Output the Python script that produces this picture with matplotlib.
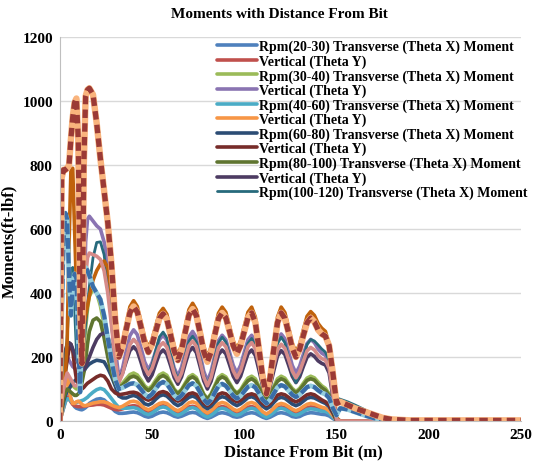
import matplotlib
matplotlib.use("Agg")
import matplotlib.pyplot as plt

plt.rcParams['font.family'] = ['Liberation Serif', 'DejaVu Serif']
plt.rcParams['font.weight'] = 'bold'

# distance from bit (m)
dist = [0, 1, 2, 3, 4, 5, 6, 7, 8, 9, 10, 11, 12, 13, 14, 15, 16,
        18, 20, 22, 24, 26, 28, 30,
        32, 34, 36, 38, 40, 42, 44, 46, 48, 50, 52, 54, 56, 58, 60, 62, 64,
        66, 68, 70, 72, 74, 76, 78, 80, 82, 84, 86, 88, 90, 92, 94, 96,
        98, 100, 102, 104, 106, 108, 110, 112, 114, 116, 118, 120, 122, 124, 126, 128,
        130, 132, 134, 136, 138, 140, 142, 144, 146, 148, 150,
        152, 156, 160, 165, 170, 175, 180, 190, 200, 225, 250]

Z11 = [0] * 11

rpm20_tx = ([0, 30, 60, 85, 92, 85, 70, 55, 45, 40, 38, 36, 35, 38, 42, 48, 55,
             62, 68, 70, 66, 55, 42, 30,
             24, 24, 25, 27, 28, 26, 21, 15, 12, 15, 21, 26, 28, 26, 21, 15, 12,
             15, 20, 25, 27, 25, 18, 12, 8, 12, 18, 24, 26, 24, 20, 14, 12,
             14, 20, 24, 26, 24, 18, 12, 8, 12, 18, 24, 26, 24, 20, 14, 12,
             14, 20, 24, 26, 25, 23, 21, 20, 16, 8, 1] + Z11)
rpm20_vy = ([0, 20, 40, 60, 75, 70, 60, 52, 48, 46, 45, 45, 45, 46, 47, 48, 49,
             50, 52, 52, 50, 45, 40, 36,
             35, 38, 42, 46, 48, 46, 39, 32, 28, 32, 39, 46, 48, 45, 38, 30, 26,
             30, 37, 44, 46, 43, 34, 25, 20, 25, 34, 42, 45, 43, 36, 30, 26,
             30, 36, 43, 45, 42, 33, 23, 18, 23, 32, 41, 44, 42, 36, 30, 26,
             30, 36, 42, 44, 43, 39, 36, 34, 28, 14, 1] + Z11)
rpm30_tx = ([0, 50, 90, 120, 140, 130, 120, 110, 105, 100, 100, 110, 150, 220, 290, 350, 390,
             412, 400, 360, 300, 230, 170, 130,
             110, 118, 132, 145, 150, 144, 128, 110, 100, 110, 128, 144, 150, 143, 122, 100, 88,
             99, 119, 138, 145, 136, 111, 85, 70, 85, 111, 136, 145, 138, 119, 99, 88,
             98, 117, 134, 140, 132, 108, 84, 70, 84, 108, 132, 140, 134, 118, 102, 92,
             102, 118, 134, 140, 135, 122, 110, 102, 85, 40, 3] + Z11)
rpm30_vy = ([0, 100, 150, 180, 200, 190, 180, 170, 165, 160, 160, 165, 200, 350, 560, 630, 640,
             625, 610, 600, 560, 500, 380, 230,
             135, 165, 218, 267, 285, 270, 229, 185, 160, 182, 219, 255, 268, 253, 210, 166, 140,
             168, 217, 263, 280, 261, 210, 156, 125, 154, 204, 251, 268, 254, 215, 174, 150,
             174, 215, 254, 268, 248, 195, 138, 105, 138, 197, 252, 272, 257, 217, 174, 150,
             171, 208, 242, 255, 245, 225, 212, 205, 180, 90, 5] + Z11)
rpm40_tx = ([0, 20, 40, 60, 70, 68, 62, 58, 56, 58, 60, 62, 64, 66, 70, 74, 80,
             90, 98, 102, 98, 85, 70, 55,
             42, 40, 40, 41, 42, 39, 32, 24, 20, 25, 33, 41, 44, 41, 32, 23, 18,
             23, 31, 39, 42, 38, 28, 18, 12, 18, 27, 37, 40, 37, 30, 22, 18,
             22, 30, 37, 40, 37, 27, 18, 12, 18, 27, 37, 40, 37, 30, 22, 18,
             22, 29, 36, 38, 37, 34, 31, 30, 24, 12, 1] + Z11)
rpm40_vy = ([15, 20, 60, 135, 140, 100, 70, 55, 55, 60, 62, 58, 52, 48, 48, 50, 52,
             56, 58, 60, 60, 56, 50, 45,
             42, 46, 53, 60, 62, 59, 50, 40, 35, 40, 48, 55, 58, 55, 46, 37, 32,
             38, 47, 57, 60, 56, 44, 32, 25, 32, 43, 54, 58, 55, 46, 37, 32,
             37, 46, 55, 58, 54, 42, 29, 22, 29, 40, 51, 55, 52, 45, 37, 32,
             37, 45, 52, 55, 53, 48, 43, 40, 32, 18, 2] + Z11)
rpm60_tx = ([0, 30, 60, 80, 95, 100, 110, 120, 125, 130, 135, 140, 145, 155, 165, 172, 178,
             185, 190, 188, 185, 165, 140, 110,
             78, 72, 72, 77, 80, 76, 66, 54, 50, 56, 68, 78, 82, 78, 67, 55, 48,
             54, 65, 74, 78, 73, 60, 46, 38, 46, 59, 71, 76, 73, 63, 54, 48,
             54, 63, 73, 76, 71, 59, 46, 38, 45, 58, 70, 74, 71, 62, 53, 48,
             53, 62, 71, 74, 72, 66, 60, 55, 45, 25, 2] + Z11)
rpm60_vy = ([0, 60, 110, 150, 190, 225, 240, 220, 170, 130, 115, 105, 100, 105, 112, 118, 122,
             130, 138, 143, 140, 125, 100, 88,
             82, 84, 86, 89, 90, 87, 79, 70, 65, 70, 80, 89, 92, 88, 78, 68, 62,
             67, 76, 85, 88, 83, 70, 56, 48, 56, 70, 83, 88, 85, 75, 66, 60,
             65, 74, 82, 85, 81, 68, 55, 48, 55, 68, 81, 85, 82, 74, 65, 60,
             65, 74, 82, 85, 82, 74, 66, 60, 50, 28, 2] + Z11)
rpm80_tx = ([0, 40, 70, 90, 100, 95, 90, 85, 80, 80, 85, 95, 120, 150, 190, 240, 280,
             315, 322, 310, 260, 200, 150, 120,
             105, 112, 124, 136, 140, 135, 120, 104, 95, 104, 121, 136, 142, 135, 116, 96, 85,
             96, 114, 132, 138, 130, 106, 82, 68, 82, 106, 130, 138, 132, 114, 96, 85,
             94, 111, 126, 132, 124, 103, 81, 68, 81, 103, 124, 132, 127, 112, 97, 88,
             97, 112, 127, 132, 128, 115, 104, 96, 80, 38, 3] + Z11)
rpm80_vy = ([0, 100, 180, 220, 240, 245, 240, 225, 210, 195, 180, 170, 160, 160, 170, 185, 200,
             230, 255, 270, 275, 265, 225, 170,
             130, 150, 186, 220, 232, 219, 184, 146, 125, 144, 178, 210, 222, 209, 174, 136, 115,
             138, 178, 216, 230, 214, 171, 126, 100, 124, 167, 207, 222, 210, 176, 140, 120,
             140, 176, 210, 222, 205, 158, 108, 80, 108, 157, 203, 220, 208, 175, 140, 120,
             138, 170, 199, 210, 202, 188, 180, 175, 150, 75, 4] + Z11)
rpm100_tx = [0, 80, 150, 200, 260, 380, 470, 480, 350, 220, 180, 170, 190, 240, 300, 360, 420,
             510, 558, 560, 520, 430, 300, 190,
             125, 151, 197, 239, 255, 242, 208, 171, 150, 176, 220, 263, 278, 260, 211, 160, 130,
             157, 204, 249, 265, 247, 198, 145, 115, 144, 196, 244, 262, 247, 205, 160, 135,
             160, 203, 243, 258, 238, 185, 128, 95, 128, 187, 242, 262, 245, 198, 148, 120,
             147, 194, 239, 255, 250, 238, 225, 215, 190, 130, 72,
             68, 60, 50, 36, 22, 10, 4, 1, 0, 0, 0]
rpm100_vy = ([0, 50, 100, 150, 250, 550, 780, 790, 600, 420, 300, 250, 270, 300, 330, 360, 390,
              440, 470, 490, 500, 480, 400, 300,
              215, 247, 304, 357, 376, 358, 310, 259, 230, 254, 297, 337, 352, 334, 286, 234, 205,
              238, 295, 348, 368, 348, 292, 234, 200, 231, 286, 337, 356, 340, 297, 251, 225,
              251, 297, 340, 356, 325, 241, 151, 100, 151, 241, 325, 356, 339, 293, 243, 215,
              240, 285, 327, 342, 330, 305, 290, 280, 240, 120, 10] + Z11)
rpm100_vy2 = ([0, 60, 100, 130, 150, 140, 130, 120, 110, 110, 115, 130, 200, 330, 450, 510, 525,
               520, 515, 505, 470, 400, 300, 190,
               120, 147, 194, 239, 255, 242, 206, 167, 145, 165, 200, 233, 245, 231, 191, 149, 125,
               150, 194, 235, 250, 233, 187, 138, 110, 137, 184, 229, 245, 232, 196, 157, 135,
               157, 196, 232, 245, 226, 175, 121, 90, 120, 173, 222, 240, 227, 193, 156, 135,
               154, 187, 219, 230, 222, 205, 195, 190, 165, 85, 5] + Z11)
rpm120_tx = [0, 320, 560, 650, 630, 450, 330, 420, 460, 445, 250, 90, 280, 460, 480, 470, 455,
             420, 400, 380, 330, 260, 190, 130,
             100, 104, 110, 116, 118, 113, 99, 84, 75, 84, 101, 116, 122, 116, 99, 80, 70,
             80, 96, 112, 118, 110, 90, 68, 55, 67, 89, 109, 116, 110, 95, 79, 70,
             78, 93, 107, 112, 105, 86, 66, 55, 66, 86, 105, 112, 108, 95, 82, 75,
             82, 94, 106, 110, 106, 96, 88, 84, 72, 40, 18,
             40, 36, 28, 18, 9, 4, 1, 0, 0, 0, 0]
rpm120_vy = [0, 760, 785, 785, 790, 800, 880, 950, 995, 1008, 880, 350, 180, 800, 1015, 1035, 1040,
             1020, 930, 820, 720, 620, 490, 320,
             200, 232, 287, 339, 358, 341, 294, 244, 215, 239, 281, 321, 335, 318, 270, 219, 190,
             222, 278, 331, 350, 330, 276, 218, 185, 216, 269, 320, 338, 323, 280, 236, 210,
             236, 280, 323, 338, 308, 224, 136, 85, 136, 224, 308, 338, 321, 276, 228, 200,
             224, 267, 307, 322, 310, 285, 272, 265, 235, 150, 55,
             60, 50, 40, 30, 20, 10, 5, 2, 2, 2, 2]

legend_labels = [
    'Rpm(20-30) Transverse (Theta X) Moment', 'Vertical (Theta Y)',
    'Rpm(30-40) Transverse (Theta X) Moment', 'Vertical (Theta Y)',
    'Rpm(40-60) Transverse (Theta X) Moment', 'Vertical (Theta Y)',
    'Rpm(60-80) Transverse (Theta X) Moment', 'Vertical (Theta Y)',
    'Rpm(80-100) Transverse (Theta X) Moment', 'Vertical (Theta Y)',
    'Rpm(100-120) Transverse (Theta X) Moment',
]

fig = plt.figure(figsize=(5.59, 4.64), dpi=100)
ax = fig.add_axes([0.107, 0.0905, 0.825, 0.8275])

series = [
    (rpm20_tx, '#4F81BD', 2.6),
    (rpm20_vy, '#C0504D', 2.6),
    (rpm30_tx, '#9BBB59', 2.6),
    (rpm30_vy, '#8A74B2', 2.6),
    (rpm40_tx, '#4BACC6', 2.6),
    (rpm40_vy, '#F79646', 2.6),
    (rpm60_tx, '#2C4D75', 2.6),
    (rpm60_vy, '#772C2A', 2.6),
    (rpm80_tx, '#5F7530', 2.6),
    (rpm80_vy, '#4D3B62', 2.6),
    (rpm100_tx, '#276A7C', 2.0),
]
handles = []
for vals, col, lw in series:
    h, = ax.plot(dist, vals, color=col, lw=lw, solid_capstyle='round')
    handles.append(h)

# the series not shown in the legend
ax.plot(dist, rpm100_vy, color='#C0620C', lw=2.6)
ax.plot(dist, rpm100_vy2, color='#D68B89', lw=2.6)
ax.plot(dist, rpm120_tx, color='#93CDDD', lw=3.4)
ax.plot(dist, rpm120_tx, color='#3A6DA8', lw=3.0, dashes=(2.6, 0.9))
ax.plot(dist, rpm120_vy, color='#F9B47D', lw=4.6)
ax.plot(dist, rpm120_vy, color='#9B3A36', lw=3.8, dashes=(1.6, 1.0))

ax.set_xlim(0, 250)
ax.set_ylim(0, 1200)
ax.set_xticks([0, 50, 100, 150, 200, 250])
ax.set_yticks(range(0, 1201, 200))
ax.yaxis.grid(True, color='#D9D9D9', lw=1)
ax.set_axisbelow(True)
for s in ['top', 'right']:
    ax.spines[s].set_visible(False)
for s in ['left', 'bottom']:
    ax.spines[s].set_color('#BFBFBF')
ax.tick_params(length=0, labelsize=11, pad=5)

fig.text(0.5, 1 - 15 / 464, 'Moments with Distance From Bit', fontsize=11,
         fontweight='bold', ha='center', va='center')
ax.set_xlabel('Distance From Bit (m)', fontsize=12, fontweight='bold', labelpad=-1)
ax.xaxis.set_label_coords(0.529, -0.058)
ax.set_ylabel('Moments(ft-lbf)', fontsize=12, fontweight='bold')
ax.yaxis.set_label_coords(-0.093, 0.47)

ax.legend(handles, legend_labels, loc='upper left', bbox_to_anchor=(0.335, 1.0),
          frameon=False, fontsize=10, labelspacing=0.08, handlelength=2.9,
          handletextpad=0.15, borderaxespad=0, borderpad=0.2)

fig.savefig('out.png', dpi=100)
